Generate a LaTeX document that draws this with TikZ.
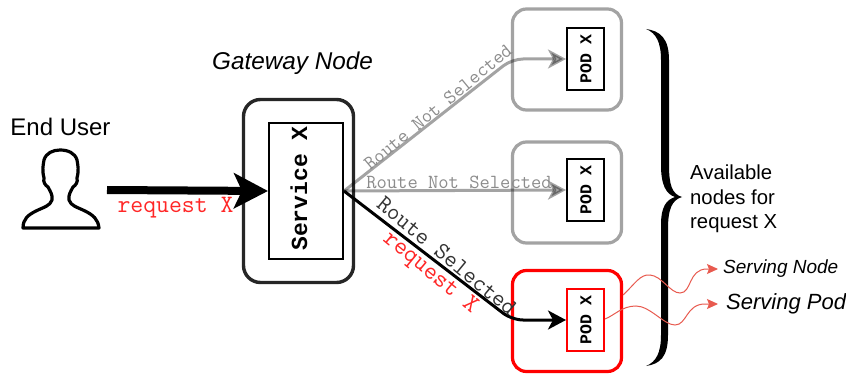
\documentclass[tikz,border=0pt]{standalone}
\usepackage{fontspec}
\setmainfont{Liberation Sans}
\newfontfamily\boldmono{Liberation Mono}
\usetikzlibrary{arrows.meta}
\definecolor{boxgrey}{HTML}{A3A3A3}
\definecolor{srvred}{HTML}{FF0000}
\definecolor{curvered}{HTML}{E85A4F}
\tikzset{
  outerbox/.style={draw=#1,line width=3.2pt,rounded corners=14pt,minimum width=109pt,minimum height=101pt,inner sep=0pt},
  podbox/.style={draw=#1,line width=2pt,minimum width=37pt,minimum height=62pt,inner sep=0pt},
  podtext/.style={inner sep=0pt,rotate=90,font=\fontsize{16.5}{17}\selectfont\boldmono\bfseries},
  nogo/.style={line width=3pt,draw=black,draw opacity=.36,fill opacity=.36,rounded corners=11pt,
    -{Stealth[length=18pt,width=19pt,inset=5pt]}},
  go/.style={line width=3pt,black,rounded corners=11pt,-{Stealth[length=18pt,width=19pt,inset=5pt]}},
  routelabel/.style={font=\fontsize{#1}{#1}\selectfont\ttfamily,inner sep=0pt},
  servecurve/.style={draw=curvered,line width=1pt,-{Stealth[length=11pt,width=10pt,inset=2pt]}},
  plain/.style={inner sep=0pt}
}
\begin{document}
\begin{tikzpicture}[x=1pt,y=-1pt]
\useasboundingbox (0,0) rectangle (846,374);
\fill[white] (0,0) rectangle (846,374);

% gateway
\node[draw=black!85,line width=3.4pt,rounded corners=17pt,minimum width=110pt,minimum height=183pt,inner sep=0pt] (gw) at (298.5,191) {};
\node[draw=black,line width=2pt,minimum width=74pt,minimum height=136pt,inner sep=0pt] (svc) at (306,191) {};
\node[plain,rotate=90,font=\fontsize{23}{23}\selectfont\boldmono\bfseries] (svctext) at (299,188.5) {Service X};

% pods
\node[outerbox=boxgrey] (n1) at (567,59.5) {};
\node[outerbox=boxgrey] (n2) at (567,192.5) {};
\node[outerbox=srvred] (n3) at (567,321) {};
\node[podbox=black] (p1) at (585.5,59) {};
\node[podbox=black] (p2) at (585.5,190) {};
\node[podbox=srvred] (p3) at (585.5,320) {};
\node[podtext] (t1) at (586,59) {POD X};
\node[podtext] (t2) at (586,190) {POD X};
\node[podtext] (t3) at (586,320) {POD X};

% person
\coordinate (uin) at (107,190);
\draw[line width=3.2pt,line join=round,black]
  (23,228) .. controls (23,219) and (28,215) .. (36,211)
  .. controls (44,207) and (50,206) .. (52,200)
  .. controls (53,195) and (50,191) .. (48,187)
  .. controls (45,185) and (43,182) .. (44,178)
  .. controls (42,170) and (43,166) .. (44,160)
  .. controls (46,153) and (53,150) .. (60,150)
  .. controls (68,150) and (75,153) .. (77,160)
  .. controls (78,166) and (79,170) .. (77,178)
  .. controls (78,182) and (76,185) .. (73,187)
  .. controls (71,191) and (68,195) .. (69,200)
  .. controls (71,206) and (77,207) .. (85,211)
  .. controls (93,215) and (98,219) .. (99,228) -- cycle;

% connectors
\draw[line width=8pt,-{Stealth[length=34pt,width=35pt,inset=8pt]}] (uin) -- (svc.west);
\coordinate (b1) at (512,59);
\coordinate (b3) at (512,320);
\draw[nogo] (svc.east) -- (b1) -- (p1.west);
\draw[nogo] (svc.east) -- (p2.west);
\draw[go] (svc.east) -- (b3) -- (p3.west);

% labels
\node[plain,font=\fontsize{24}{24}\selectfont] (enduser) at (60.5,127) {End User};
\node[plain,font=\fontsize{24.3}{24}\selectfont\itshape] (gwlabel) at (292.5,63) {Gateway Node};
\node[routelabel=25,text=srvred!85!white] (req1) at (175.5,208) {request X};
\node[routelabel=20,text=black!45,rotate=39.5] (rns1) at (438,107) {Route Not Selected};
\node[routelabel=20,text=black!45] (rns2) at (459,182) {Route Not Selected};
\node[routelabel=24,text=black!80,rotate=-39.5] (rs) at (447,256) {Route Selected};
\node[routelabel=25,text=srvred!85!white,rotate=-39.5] (req2) at (430,273.5) {request X};

% brace
\fill[black] (646,29) .. controls (660,31) and (669,38) .. (669,60)
  -- (669,165) .. controls (669,185) and (672,194) .. (682,197)
  .. controls (672,200) and (668,209) .. (668,229)
  -- (668,335) .. controls (668,357) and (660,364) .. (646,366)
  .. controls (656,362) and (661,353) .. (661,335)
  -- (661,225) .. controls (661,207) and (666,200) .. (675,197)
  .. controls (666,194) and (661,185) .. (661,165)
  -- (661,60) .. controls (661,42) and (656,33) .. (646,29) -- cycle;

\node[plain,font=\fontsize{20.3}{24.5}\selectfont,align=left,anchor=west] (avail) at (690,199) {Available\\nodes for\\request X};

\node[anchor=west,inner sep=5pt,font=\fontsize{19}{19}\selectfont\itshape] (snode) at (718,269) {Serving Node};
\node[anchor=west,inner sep=8pt,font=\fontsize{22}{22}\selectfont\itshape] (spod) at (718,304) {Serving Pod};
\coordinate (c1) at (623,295);
\draw[servecurve] (c1) .. controls (635,284) and (640,274) .. (650,275)
  .. controls (662,276) and (670,293) .. (680,293)
  .. controls (692,293) and (688,269) .. (707,269) -- (snode.west);
\draw[servecurve] (p3.east) ++(0,-1) .. controls (615,315) and (622,306) .. (636,306)
  .. controls (650,306) and (664,325) .. (675,325)
  .. controls (687,325) and (686,304) .. (705,304) -- (spod.west);
\end{tikzpicture}
\end{document}
